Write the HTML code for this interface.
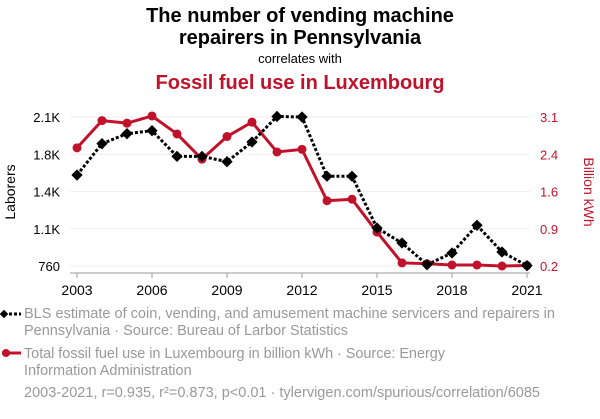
<!DOCTYPE html>
<html><head><meta charset="utf-8"><style>
body{margin:0;background:#fff;font-family:"Liberation Sans",sans-serif;}
svg text{font-family:"Liberation Sans",sans-serif;}
</style></head><body>
<svg id="c" width="600" height="414" viewBox="0 0 600 414">
<text x="300" y="22" text-anchor="middle" font-size="20" font-weight="bold" fill="#000">The number of vending machine</text>
<text x="300" y="44" text-anchor="middle" font-size="20" font-weight="bold" fill="#000">repairers in Pennsylvania</text>
<text x="300" y="63" text-anchor="middle" font-size="13" fill="#000">correlates with</text>
<text x="300" y="89" text-anchor="middle" font-size="20" font-weight="bold" fill="#c0132b">Fossil fuel use in Luxembourg</text>
<text transform="translate(15,192) rotate(-90)" text-anchor="middle" font-size="14" fill="#000">Laborers</text>
<text transform="translate(584,192) rotate(90)" text-anchor="middle" font-size="14" fill="#c0132b">Billion kWh</text>
<g id="grid"></g><g id="axes"></g><g id="marks"></g>
<g>
<line x1="4" y1="314" x2="21" y2="314" stroke="#000" stroke-width="3" stroke-dasharray="3,2"/>
<rect x="1" y="311" width="6" height="6" transform="rotate(45 4 314)" fill="#000"/>
<text x="24" y="318" font-size="14.5" textLength="531" fill="#999">BLS estimate of coin, vending, and amusement machine servicers and repairers in</text>
<text x="24" y="335" font-size="14.5" fill="#999">Pennsylvania · Source: Bureau of Larbor Statistics</text>
<line x1="2" y1="353" x2="21" y2="353" stroke="#c0132b" stroke-width="3"/>
<circle cx="6" cy="353" r="4" fill="#c0132b"/>
<text x="24" y="358" font-size="14.5" textLength="421" fill="#999">Total fossil fuel use in Luxembourg in billion kWh · Source: Energy</text>
<text x="24" y="375" font-size="14.5" fill="#999">Information Administration</text>
</g>
<text x="24" y="397" font-size="14.5" fill="#999" textLength="516">2003-2021, r=0.935, r²=0.873, p&lt;0.01 · tylervigen.com/spurious/correlation/6085</text>
</svg>
<script>
const years=[2003,2004,2005,2006,2007,2008,2009,2010,2011,2012,2013,2014,2015,2016,2017,2018,2019,2020,2021];
const laborers=[1578,1860,1950,1977,1746,1746,1698,1875,2105,2100,1567,1567,1102,967,772,877,1126,886,763];
const fossil=[2.50,3.03,2.98,3.12,2.77,2.28,2.72,3.0,2.42,2.47,1.47,1.50,0.86,0.26,0.245,0.22,0.22,0.2,0.21];
const leftTicks=[760,1095,1430,1765,2100];
const leftTickLabels=["760","1.1K","1.4K","1.8K","2.1K"];
const rightTicks=[0.2,0.925,1.65,2.375,3.1];
const rightTickLabels=["0.2","0.9","1.6","2.4","3.1"];
const xTicks=[2003,2006,2009,2012,2015,2018,2021];
const NS="http://www.w3.org/2000/svg";
const x=v=>77+(v-2003)*25;
const yL=v=>266-(v-760)/(2100-760)*149;
const yR=v=>266-(v-0.2)/(3.1-0.2)*149;
function mk(p,t,a){const e=document.createElementNS(NS,t);for(const k in a)e.setAttribute(k,a[k]);document.getElementById(p).appendChild(e);return e;}
leftTicks.forEach((t,i)=>{
 const g=mk('grid','line',{x1:70,x2:530,y1:yL(t),y2:yL(t),stroke:'#eee','stroke-width':1});
 
 
 const l=mk('axes','text',{x:60,y:yL(t)+5,'text-anchor':'end','font-size':13,fill:'#000'});l.textContent=leftTickLabels[i];
 
 
});
rightTicks.forEach((t,i)=>{
 const l=mk('axes','text',{x:540,y:yR(t)+5,'font-size':13,fill:'#c0132b'});l.textContent=rightTickLabels[i];
 
 
});
const ax=mk('axes','line',{x1:70,x2:530,y1:273,y2:273,stroke:'#999','stroke-width':1});


xTicks.forEach(t=>{
 mk('axes','line',{x1:x(t),x2:x(t),y1:273,y2:278,stroke:'#999'});
 const l=mk('axes','text',{x:x(t),y:295,'text-anchor':'middle','font-size':14,fill:'#000'});l.textContent=t;
 
 
});
const rp=mk('marks','polyline',{points:years.map((y,i)=>x(y)+','+yR(fossil[i])).join(' '),fill:'none',stroke:'#c0132b','stroke-width':3,'stroke-linejoin':'round'});


years.forEach((y,i)=>{const c=mk('marks','circle',{cx:x(y),cy:yR(fossil[i]),r:4.5,fill:'#c0132b'});
 
 });
const bp=mk('marks','polyline',{points:years.map((y,i)=>x(y)+','+yL(laborers[i])).join(' '),fill:'none',stroke:'#000','stroke-width':3,'stroke-dasharray':'3,2'});


years.forEach((y,i)=>{const cx=x(y),cy=yL(laborers[i]);
 const d=mk('marks','rect',{x:cx-4,y:cy-4,width:8,height:8,fill:'#000',transform:`rotate(45 ${cx} ${cy})`});
 
 });
</script>
</body></html>
